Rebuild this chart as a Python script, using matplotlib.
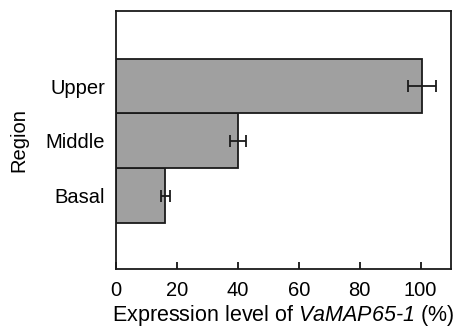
import matplotlib
matplotlib.use('Agg')
import matplotlib.pyplot as plt

plt.rcParams['font.family'] = ['Liberation Sans', 'DejaVu Sans']
# only the gene name is set in math text, so make all of it italic
plt.rcParams['mathtext.fontset'] = 'custom'
plt.rcParams['mathtext.rm'] = 'Liberation Sans:italic'
plt.rcParams['mathtext.it'] = 'Liberation Sans:italic'

regions = ['Basal', 'Middle', 'Upper']
expression = [16.2, 40.1, 100.6]
errors = [1.4, 2.6, 4.6]

fig = plt.figure(figsize=(4.62, 3.3), dpi=100)
ax = fig.add_axes([116 / 462, 1 - 269 / 330, (451 - 116) / 462, (269 - 11) / 330])

ypos = range(len(regions))
ax.barh(ypos, expression, height=1.0, color='#a0a0a0', edgecolor='#1a1a1a',
        linewidth=1.3, xerr=errors,
        error_kw=dict(ecolor='#1a1a1a', elinewidth=1.3, capsize=4, capthick=1.3))

ax.set_xlim(0, 110)
ax.set_ylim(-1.34, 3.37)
ax.set_xticks([0, 20, 40, 60, 80, 100])
ax.set_yticks(list(ypos))
ax.set_yticklabels(regions)
ax.tick_params(axis='x', direction='in', length=5, width=1.2, labelsize=14.5, pad=8.5)
ax.tick_params(axis='y', length=0, labelsize=14.5, pad=8)
for s in ax.spines.values():
    s.set_linewidth(1.3)
    s.set_color('#1a1a1a')

ax.set_xlabel('Expression level of $\\mathrm{VaMAP65\u20101}$ (%)', fontsize=15.5, labelpad=2)
ax.set_ylabel('Region', fontsize=14.5, labelpad=12)

fig.savefig('out.png', dpi=100)
